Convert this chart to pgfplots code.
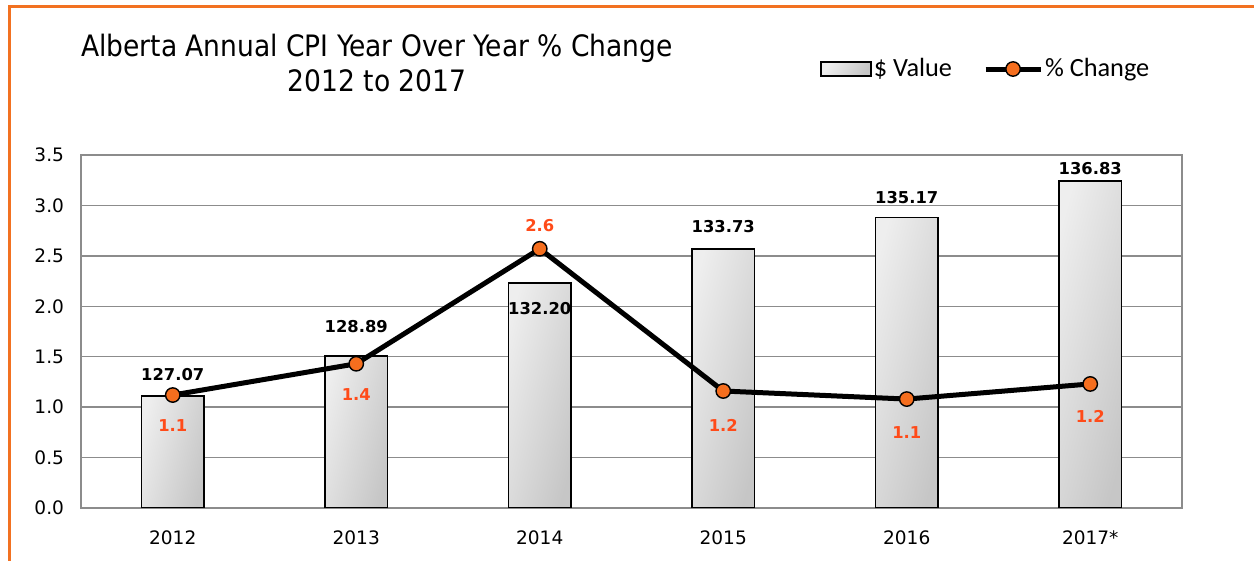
\documentclass[border=0pt]{standalone}
\usepackage{fontspec}
\usepackage{graphicx}
\usepackage{pgfplots}
\usepackage{pgfplotstable}
\pgfplotsset{compat=1.18}
\setmainfont{DejaVu Sans}
\newfontfamily\condfont{DejaVu Sans Condensed}
\newfontfamily\legfont{Carlito}

\definecolor{frameorange}{RGB}{242,113,33}
\definecolor{markorange}{RGB}{245,110,30}
\definecolor{labelorange}{RGB}{255,75,25}
\definecolor{gridgray}{RGB}{140,140,140}
\definecolor{barlight}{RGB}{238,238,238}
\definecolor{bardark}{RGB}{198,198,198}

% CPI values and label offsets (bp)
\pgfplotstableread{
x  val     dy
0  127.07  11
1  128.89  14.5
2  132.20  -13
3  133.73  11.5
4  135.17  10
5  136.83  6
}\cpidata

% year over year % change
\pgfplotstableread{
x  pct   lab  dy
0  1.12  1.1  -15.5
1  1.43  1.4  -15.5
2  2.57  2.6  11.5
3  1.16  1.2  -17
4  1.08  1.1  -16.5
5  1.23  1.2  -16
}\pctdata

\pgfplotsset{
  base/.style={
    scale only axis,
    width=550.5bp, height=176.5bp,
    at={(40.5bp,26.5bp)}, anchor=south west,
    xmin=-0.5, xmax=5.5,
  },
  lineleg/.style={
    legend image code/.code={
      \draw[mark repeat=2, mark phase=2, ##1] plot coordinates {(0bp,0bp) (13.75bp,0bp) (27.5bp,0bp)};}
  },
  barleg/.style={
    legend image code/.code={
      \draw[top color=barlight, bottom color=bardark, shading angle=60, draw=black, line width=0.7bp]
        (0bp,-3.5bp) rectangle (25bp,3.5bp);}
  },
}

\begin{document}
\begin{tikzpicture}
\path[use as bounding box] (0,0) rectangle (627bp,280.5bp);
\draw[frameorange, line width=1.6bp] (4.75bp,0) -- (4.75bp,277.2bp) -- (627bp,277.2bp);

\node[align=center, font=\condfont\fontsize{14.8}{17.5}\selectfont] at (188.5bp,249bp)
  {Alberta Annual CPI Year Over Year \% Change\\2012 to 2017};

% grid and tick labels
\begin{axis}[base,
  ymin=0, ymax=3.5,
  ytick={0,0.5,...,3.5},
  xtick={0,...,5},
  xticklabels={2012,2013,2014,2015,2016,2017*},
  ymajorgrids,
  grid style={gridgray, line width=0.75bp},
  axis line style={gridgray, line width=0.75bp},
  major tick length=0pt,
  tick label style={font=\fontsize{9.3}{11}\selectfont},
  /pgf/number format/assume math mode=true,
  yticklabel style={xshift=-5bp, /pgf/number format/.cd, fixed, fixed zerofill, precision=1},
  xticklabel style={yshift=-8bp},
]
\end{axis}

% bars: $ value, one plot per bar so each bar gets its own shading
\begin{axis}[base,
  ymin=122, ymax=138,
  hide axis,
  point meta=explicit symbolic,
  nodes near coords,
  visualization depends on={\thisrow{dy} \as \dy},
  every node near coord/.append style={anchor=center, yshift=\dy bp,
    font=\bfseries\fontsize{8.2}{10}\selectfont, text=black},
]
\pgfplotsinvokeforeach{0,...,5}{
\addplot[ybar, bar shift=0pt, bar width=31.3bp, draw=black, line width=0.9bp,
  top color=barlight, bottom color=bardark, shading angle=75]
  table[x=x, y=val, meta=val, restrict expr to domain={\coordindex}{#1:#1}] {\cpidata};
}
\end{axis}

% line: % change
\begin{axis}[base,
  ymin=0, ymax=3.5,
  hide axis,
  legend columns=2,
  legend style={at={(0.6712,1.2436)}, anchor=west, draw=none, fill=none,
    font=\legfont\fontsize{13.2}{15}\selectfont, inner sep=0pt,
    nodes={inner xsep=1bp},
    /tikz/every even column/.append style={column sep=14.5bp}},
  legend cell align=left,
]
\addlegendimage{barleg}
\addlegendentry{\$ Value}
\addplot[black, line width=2.5bp, mark=*, mark size=3.6bp,
  mark options={fill=markorange, draw=black, line width=0.7bp},
  point meta=explicit symbolic,
  nodes near coords,
  visualization depends on={\thisrow{dy} \as \dy},
  every node near coord/.append style={anchor=center, yshift=\dy bp,
    font=\bfseries\fontsize{8.2}{10}\selectfont, text=labelorange},
  lineleg]
  table[x=x, y=pct, meta=lab] {\pctdata};
\addlegendentry{\% Change}
\end{axis}
\end{tikzpicture}
\end{document}
